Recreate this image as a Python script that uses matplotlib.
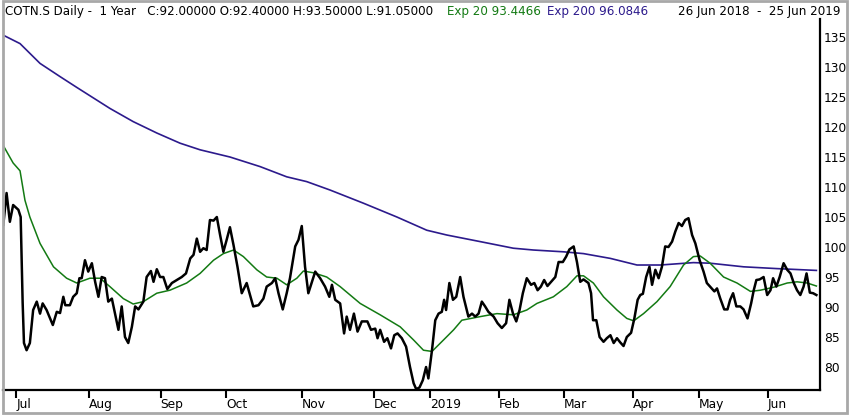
import numpy as np
import matplotlib
matplotlib.use("Agg")
import matplotlib.pyplot as plt
from matplotlib.patches import Rectangle

### values (x = trading day number from 26 Jun 2018)
close_day = [0, 1.0, 2.0, 3.0, 4.6, 5.3, 5.9, 6.3, 7.1, 8.1, 9.1, 10.2, 11.2, 12.0, 13.2,
             15.1, 16.3, 17.3, 18.3, 18.9, 20.3, 21.3, 22.4, 23.2, 23.9, 24.9, 25.9, 27.0,
             28.0, 29.0, 30.0, 31.0, 32.0, 33.1, 35.1, 36.1, 37.1, 38.1, 39.2, 40.2, 41.2,
             42.7, 43.7, 45.0, 45.8, 46.8, 47.8, 48.8, 50.0, 51.4, 52.9, 54.4, 55.7, 57.0,
             58.0, 59.0, 60.0, 61.0, 62.0, 63.0, 64.1, 65.1, 66.1, 67.1, 68.1, 69.1, 70.2,
             71.4, 72.7, 74.2, 76.2, 77.8, 79.3, 80.3, 81.9, 82.9, 83.9, 85.2, 86.4, 87.4,
             89.0, 90.0, 91.0, 92.0, 93.0, 94.1, 95.1, 96.6, 98.1, 99.4, 100.2, 101.2, 102.7,
             103.9, 104.7, 105.7, 106.9, 108.0, 109.3, 111.0, 112.1, 113.4, 114.1, 114.9,
             116.1, 117.1, 118.2, 119.2, 120.2, 121.5, 122.8, 124.0, 125.1, 125.9, 126.9,
             127.9, 128.9, 129.6, 130.7, 131.7, 132.7, 133.7, 134.4, 135.0, 136.0, 137.1,
             138.1, 139.3, 140.3, 141.8, 142.9, 143.9, 144.9, 145.9, 146.9, 147.9, 149.5,
             150.7, 152.0, 153.3, 154.3, 155.4, 156.4, 157.4, 158.4, 159.6, 160.9, 161.9,
             162.9, 163.9, 164.9, 165.9, 167.0, 168.3, 169.3, 170.6, 171.6, 172.6, 173.9,
             174.9, 175.9, 176.9, 178.4, 179.2, 179.8, 180.8, 181.8, 183.0, 184.0, 185.1,
             186.1, 187.1, 188.1, 189.1, 190.1, 191.4, 192.4, 193.4, 194.2, 195.0, 196.0,
             197.0, 197.8, 198.8, 199.8, 200.8, 201.8, 202.8, 203.9, 204.9, 205.9, 206.9,
             207.9, 208.9, 210.0, 211.0, 212.3, 213.5, 214.5, 215.5, 216.8, 217.6, 218.6,
             219.8, 220.8, 221.6, 222.5, 223.5, 224.7, 225.7, 226.9, 228.0, 228.8, 229.6,
             230.6, 231.8, 232.9, 233.9, 234.7, 235.7, 236.7, 237.9, 239.0, 240.0, 241.0,
             242.0, 243.0, 244.0, 244.9, 245.9, 246.9, 247.9]
close = [103.7, 109.0, 104.2, 107.0, 106.2, 105.0, 90.7, 84.0, 82.8, 84.0, 89.5, 90.9, 88.9,
         90.6, 89.5, 87.0, 89.2, 89.0, 91.7, 90.3, 90.3, 91.7, 92.3, 94.8, 94.8, 97.8, 95.9,
         97.3, 94.2, 91.7, 95.0, 94.8, 90.9, 91.4, 86.2, 90.1, 85.0, 84.0, 86.7, 90.1, 89.6,
         90.9, 95.0, 96.0, 94.2, 96.3, 95.0, 95.0, 93.0, 94.0, 94.5, 95.0, 95.6, 98.1, 98.7,
         101.4, 99.2, 99.8, 99.5, 104.5, 104.4, 105.0, 102.0, 99.2, 101.2, 103.3, 100.3,
         96.7, 92.3, 94.0, 90.1, 90.3, 91.4, 93.4, 94.0, 94.8, 92.3, 89.6, 92.3, 94.8,
         100.1, 101.2, 103.5, 96.7, 92.3, 94.2, 95.9, 94.8, 93.4, 91.7, 93.7, 91.2, 90.6,
         85.6, 88.4, 86.2, 88.9, 85.9, 87.6, 87.6, 86.2, 86.4, 84.8, 86.2, 84.2, 84.8, 83.1,
         85.3, 85.6, 84.8, 83.4, 80.0, 77.3, 76.3, 76.6, 77.8, 80.0, 78.1, 82.8, 87.8, 88.9,
         89.2, 91.2, 89.5, 94.0, 91.2, 91.7, 95.0, 91.7, 88.4, 88.9, 88.4, 88.9, 90.9, 90.1,
         89.2, 88.4, 87.3, 86.5, 87.3, 91.2, 88.9, 87.6, 89.5, 92.3, 94.8, 93.7, 94.0, 92.8,
         93.4, 94.5, 93.5, 94.2, 95.0, 97.5, 97.5, 98.4, 99.6, 100.1, 97.5, 94.2, 94.6,
         94.0, 92.3, 87.8, 87.8, 85.0, 84.2, 84.8, 85.3, 84.0, 84.8, 84.1, 83.5, 85.0, 85.7,
         88.1, 91.2, 92.0, 92.2, 95.0, 96.7, 93.7, 96.2, 94.8, 96.7, 100.1, 100.0, 100.9,
         102.6, 104.0, 103.5, 104.5, 104.8, 102.0, 100.6, 97.8, 95.9, 94.0, 93.4, 92.6,
         93.1, 91.4, 89.6, 89.6, 91.2, 92.3, 90.1, 90.1, 89.6, 88.1, 90.6, 92.8, 94.5, 94.6,
         95.0, 92.0, 92.8, 94.8, 93.4, 95.0, 97.3, 96.2, 95.6, 94.0, 92.8, 92.0, 93.4, 95.6,
         92.4, 92.3, 92.0]

ema20_day = [0, 3.0, 5.1, 6.6, 8.1, 11.2, 15.3, 19.3, 22.4, 26.4, 29.5, 32.5, 36.6, 39.6,
             42.7, 46.8, 50.8, 55.9, 60.0, 64.1, 67.1, 70.2, 73.2, 77.3, 80.3, 83.4, 86.4,
             89.5, 91.5, 94.6, 98.6, 102.7, 108.8, 114.9, 121.0, 125.1, 128.1, 130.7, 134.2,
             137.3, 139.8, 145.4, 150.5, 155.5, 159.6, 162.7, 167.7, 171.8, 174.9, 176.9,
             179.9, 183.0, 187.1, 190.1, 192.2, 195.2, 199.3, 203.3, 207.4, 210.4, 212.5,
             215.5, 219.6, 223.7, 227.8, 230.8, 234.9, 239.0, 242.0, 245.1, 247.9]
ema20 = [116.9, 114.0, 112.7, 107.8, 105.0, 100.6, 96.7, 94.8, 94.0, 94.8, 94.8, 93.4, 91.4,
         90.5, 90.9, 92.3, 92.8, 94.0, 95.6, 97.8, 98.9, 99.5, 98.4, 96.2, 95.0, 94.8, 93.7,
         94.8, 96.0, 95.7, 95.0, 93.4, 90.6, 88.7, 86.7, 84.5, 82.8, 82.6, 84.5, 86.2, 87.8,
         88.4, 88.9, 88.7, 89.5, 90.6, 91.7, 93.4, 95.2, 95.2, 94.0, 91.7, 89.5, 88.1, 87.7,
         88.9, 90.9, 93.4, 97.0, 98.4, 98.5, 97.3, 95.0, 94.0, 92.6, 92.8, 93.3, 94.0, 94.2,
         94.0, 93.5]

ema200_day = [0, 5.1, 11.2, 17.3, 22.4, 32.5, 39.6, 46.8, 53.9, 60.0, 69.1, 78.3, 86.4, 92.5,
              99.6, 109.8, 120.0, 129.1, 135.2, 145.4, 155.5, 161.6, 170.8, 176.9, 185.1,
              193.2, 200.3, 210.4, 215.5, 225.7, 235.9, 247.9]
ema200 = [135.3, 133.9, 130.6, 128.4, 126.6, 123.1, 120.9, 119.0, 117.3, 116.2, 115.0, 113.4,
          111.7, 110.9, 109.5, 107.3, 105.0, 102.8, 102.0, 100.9, 99.8, 99.5, 99.2, 98.9,
          98.1, 97.0, 97.0, 97.4, 97.3, 96.7, 96.4, 96.1]

month_day = [4, 26, 48, 68, 91, 113, 130, 151, 171, 192, 212, 233]
month_lab = ['Jul', 'Aug', 'Sep', 'Oct', 'Nov', 'Dec', '2019', 'Feb', 'Mar', 'Apr', 'May', 'Jun']
price_ticks = [80, 85, 90, 95, 100, 105, 110, 115, 120, 125, 130, 135]

green = '#137a13'
purple = '#2c1a8c'

W, H = 850, 417
fig = plt.figure(figsize=(W / 100, H / 100), dpi=100)
ax = fig.add_axes([3.3 / W, 1 - 390 / H, (820 - 3.3) / W, (390 - 19) / H])

ax.plot(ema200_day, ema200, color=purple, lw=1.2)
ax.plot(ema20_day, ema20, color=green, lw=1.1)
ax.plot(close_day, close, color='black', lw=1.8)

ax.set_xlim(0, 249)
ax.set_ylim(76.17, 138.0)

for s in ['top', 'left']:
    ax.spines[s].set_visible(False)
for s in ['right', 'bottom']:
    ax.spines[s].set_linewidth(1.6)

ax.yaxis.tick_right()
ax.set_yticks(price_ticks)
ax.set_yticklabels([str(v) for v in price_ticks])
ax.tick_params(axis='y', length=0, pad=3, labelsize=8.8)

ax.set_xticks(month_day)
ax.set_xticklabels(month_lab, ha='left')
ax.tick_params(axis='x', direction='out', length=6, width=1.5, pad=0, labelsize=8.8)

### header line
fs = 8.6
ty = 1 - 11 / H
fig.text(5 / W, ty, 'COTN.S Daily -  1 Year   C:92.00000 O:92.40000 H:93.50000 L:91.05000',
         fontsize=fs, va='center', ha='left', color='black')
fig.text(447 / W, ty, 'Exp 20 93.4466', fontsize=fs, va='center', ha='left', color=green)
fig.text(547 / W, ty, 'Exp 200 96.0846', fontsize=fs, va='center', ha='left', color=purple)
fig.text(840 / W, ty, '26 Jun 2018  -  25 Jun 2019', fontsize=fs, va='center', ha='right',
         color='black')

### grey outer frame
fig.patches.append(Rectangle((3 / W, 4 / H), 844 / W, 412 / H, transform=fig.transFigure,
                             fill=False, edgecolor='#a8a8a8', lw=2))

plt.savefig('out.png', dpi=100)
